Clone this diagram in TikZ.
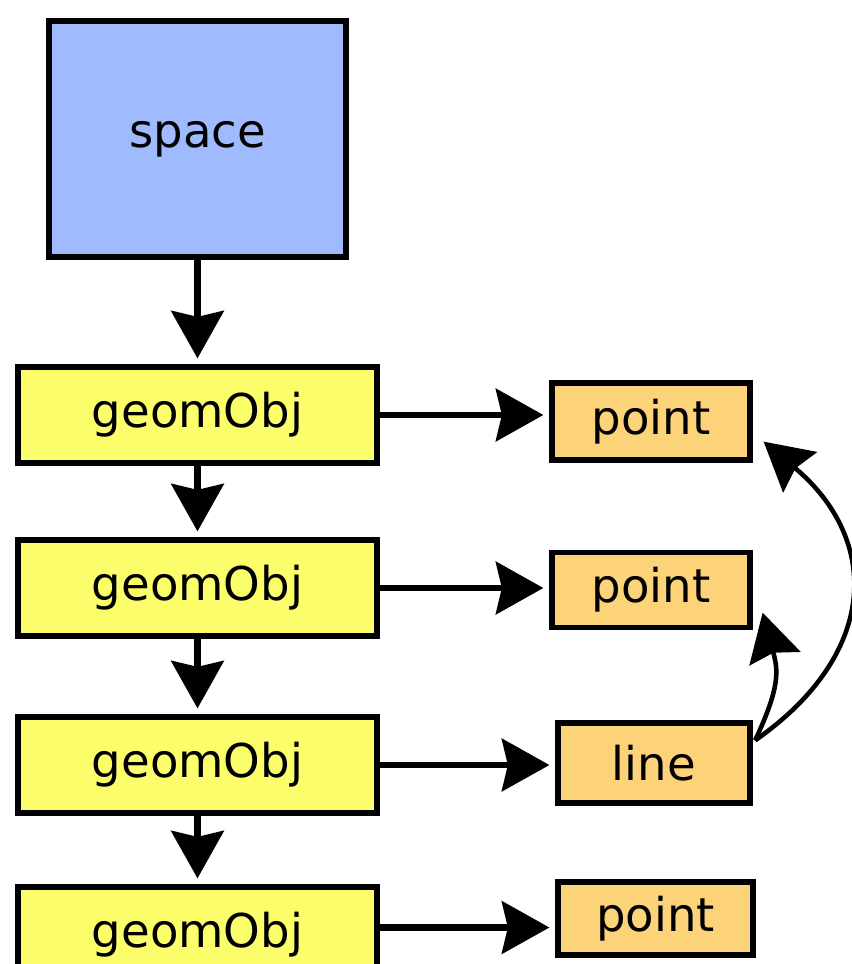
\documentclass[tikz,border=0pt]{standalone}
\usepackage{fontspec}
\setmainfont{DejaVu Sans}
\usetikzlibrary{arrows.meta}
\definecolor{spacefill}{RGB}{160,187,253}
\definecolor{geomfill}{RGB}{251,253,107}
\definecolor{pointfill}{RGB}{253,211,122}
\tikzstyle{box}=[draw=black, line width=3pt, inner sep=0pt, font=\fontsize{26.5}{30}\selectfont]
\tikzstyle{geombox}=[box, fill=geomfill, minimum width=7.18cm, minimum height=1.92cm]
\tikzstyle{pointbox}=[box, fill=pointfill, minimum width=3.96cm, minimum height=1.5cm]
\tikzstyle{link}=[line width=3.5pt, -{Stealth[length=0.95cm, width=1.05cm, inset=0.12cm]}, shorten >=0.12cm]

\begin{document}
\begin{tikzpicture}
            \useasboundingbox (0,0) rectangle (17.02,-19.28);

            \node[box, fill=spacefill, minimum width=5.94cm, minimum height=4.72cm] (space) at (3.95,-2.78) {space};

            \node[geombox] (geom1) at (3.95,-8.30) {geomObj};
            \node[geombox] (geom2) at (3.95,-11.76) {geomObj};
            \node[geombox] (geom3) at (3.95,-15.30) {geomObj};
            \node[geombox] (geom4) at (3.95,-18.70) {geomObj};

            \node[pointbox, minimum height=1.54cm] (point1) at (13.02,-8.43) {point};
            \node[pointbox] (point2) at (13.02,-11.80) {point};
            \node[pointbox, minimum width=3.84cm, minimum height=1.6cm] (line) at (13.08,-15.26) {line};
            \node[pointbox, minimum width=3.9cm, minimum height=1.46cm] (point4) at (13.11,-18.37) {point};

            \draw[link] (space) -- (geom1);
            \draw[link] (geom1) -- (geom2);
            \draw[link] (geom2) -- (geom3);
            \draw[link] (geom3) -- (geom4);

            \draw[link] (geom1.east) -- (geom1.east -| point1.west);
            \draw[link] (geom2.east) -- (geom2.east -| point2.west);
            \draw[link] (geom3.east) -- (geom3.east -| line.west);
            \draw[link] ([yshift=-0.18cm]point4.west -| geom4.east) -- ([yshift=-0.18cm]point4.west);

            % line refers to both points
            \draw[link, line width=2.6pt, shorten >=0pt] ([xshift=0.05cm,yshift=-0.4cm]line.north east)
                to[out=35, in=-40, looseness=1.3] ([xshift=0.22cm,yshift=0.42cm]point1.south east);
            \draw[link, line width=2.6pt, shorten >=0pt] ([xshift=0.05cm,yshift=-0.4cm]line.north east)
                to[out=65, in=-75, looseness=1.2] ([xshift=0.2cm,yshift=0.35cm]point2.south east);
        \end{tikzpicture}
\end{document}
